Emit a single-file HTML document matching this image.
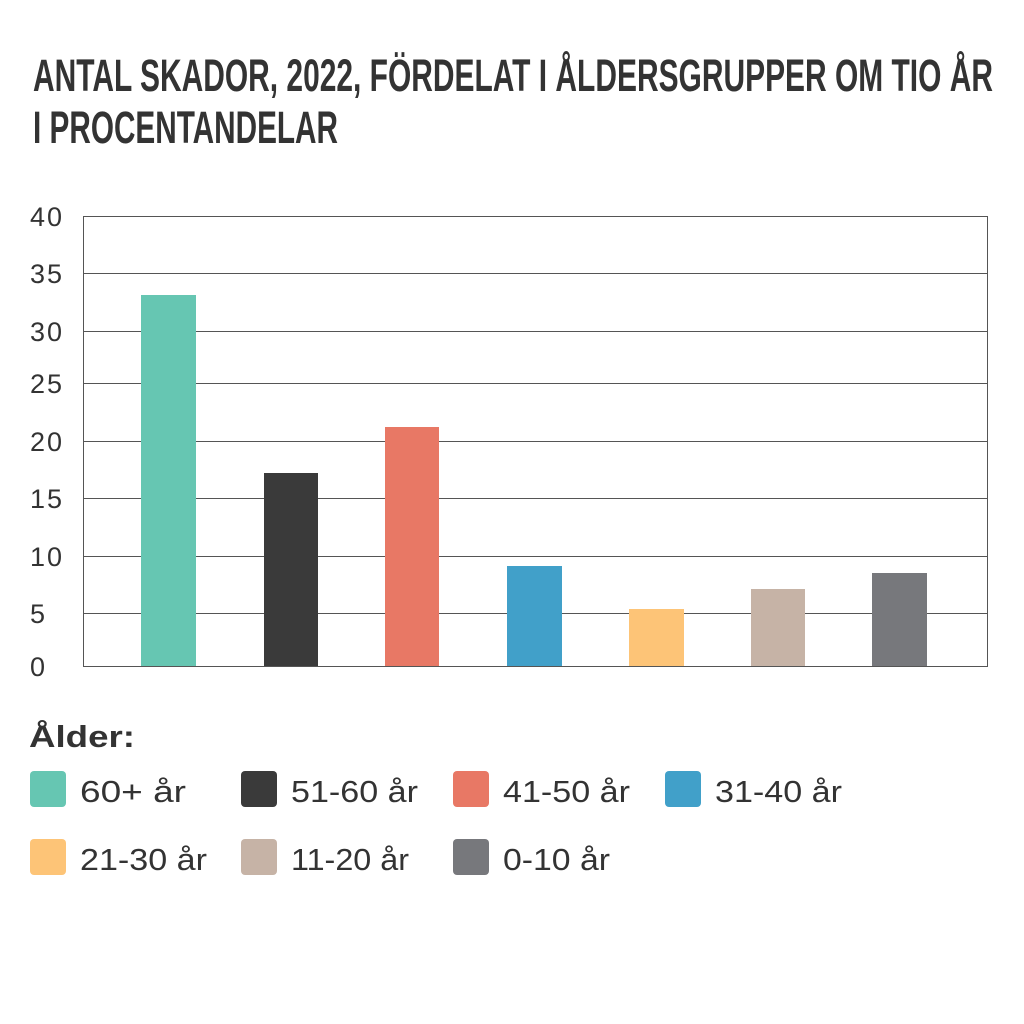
<!DOCTYPE html>
<html><head><meta charset="utf-8"><style>
html,body{margin:0;padding:0;background:#fff;}
svg{display:block;}
</style></head><body>
<svg width="1024" height="1024" xmlns="http://www.w3.org/2000/svg" font-family="Liberation Sans, sans-serif">
<rect width="1024" height="1024" fill="#fff"/>
<text x="33" y="91" font-size="45" font-weight="bold" fill="#333" textLength="960" lengthAdjust="spacingAndGlyphs">ANTAL SKADOR, 2022, FÖRDELAT I ÅLDERSGRUPPER OM TIO ÅR</text>
<text x="33" y="143" font-size="45" font-weight="bold" fill="#333" textLength="305" lengthAdjust="spacingAndGlyphs">I PROCENTANDELAR</text>
<g stroke="#555" stroke-width="1">
<line x1="83" y1="216.5" x2="988" y2="216.5"/>
<line x1="83" y1="273.5" x2="988" y2="273.5"/>
<line x1="83" y1="331.5" x2="988" y2="331.5"/>
<line x1="83" y1="383.5" x2="988" y2="383.5"/>
<line x1="83" y1="441.5" x2="988" y2="441.5"/>
<line x1="83" y1="498.5" x2="988" y2="498.5"/>
<line x1="83" y1="556.5" x2="988" y2="556.5"/>
<line x1="83" y1="613.5" x2="988" y2="613.5"/>
<line x1="83" y1="666.5" x2="988" y2="666.5"/>
<line x1="83.5" y1="216" x2="83.5" y2="667"/>
<line x1="987.5" y1="216" x2="987.5" y2="667"/>
</g>
<g font-size="27" fill="#333">
<text x="30" y="226" textLength="32">40</text>
<text x="30" y="283" textLength="32">35</text>
<text x="30" y="341" textLength="32">30</text>
<text x="30" y="393" textLength="32">25</text>
<text x="30" y="451" textLength="32">20</text>
<text x="30" y="508" textLength="32">15</text>
<text x="30" y="566" textLength="32">10</text>
<text x="30" y="623">5</text>
<text x="30" y="676">0</text>
</g>
<rect x="141" y="295" width="55" height="371" fill="#66c6b2"/>
<rect x="264" y="473" width="54" height="193" fill="#3a3a3a"/>
<rect x="385" y="427" width="54" height="239" fill="#e87865"/>
<rect x="507" y="566" width="55" height="100" fill="#41a0c9"/>
<rect x="629" y="609" width="55" height="57" fill="#fdc477"/>
<rect x="751" y="589" width="54" height="77" fill="#c6b3a6"/>
<rect x="872" y="573" width="55" height="93" fill="#77787c"/>
<text x="29" y="747" font-size="31" font-weight="bold" fill="#333" textLength="106" lengthAdjust="spacingAndGlyphs">Ålder:</text>
<g font-size="31" fill="#333">
<rect x="30" y="771" width="36" height="36" rx="4" fill="#66c6b2"/><text x="80" y="802" textLength="106" lengthAdjust="spacingAndGlyphs">60+ år</text>
<rect x="241" y="771" width="36" height="36" rx="4" fill="#3a3a3a"/><text x="291" y="802" textLength="127" lengthAdjust="spacingAndGlyphs">51-60 år</text>
<rect x="453" y="771" width="36" height="36" rx="4" fill="#e87865"/><text x="503" y="802" textLength="127" lengthAdjust="spacingAndGlyphs">41-50 år</text>
<rect x="665" y="771" width="36" height="36" rx="4" fill="#41a0c9"/><text x="715" y="802" textLength="127" lengthAdjust="spacingAndGlyphs">31-40 år</text>
<rect x="30" y="839" width="36" height="36" rx="4" fill="#fdc477"/><text x="80" y="870" textLength="127" lengthAdjust="spacingAndGlyphs">21-30 år</text>
<rect x="241" y="839" width="36" height="36" rx="4" fill="#c6b3a6"/><text x="291" y="870" textLength="118" lengthAdjust="spacingAndGlyphs">11-20 år</text>
<rect x="453" y="839" width="36" height="36" rx="4" fill="#77787c"/><text x="503" y="870" textLength="107" lengthAdjust="spacingAndGlyphs">0-10 år</text>
</g>
</svg>
</body></html>
